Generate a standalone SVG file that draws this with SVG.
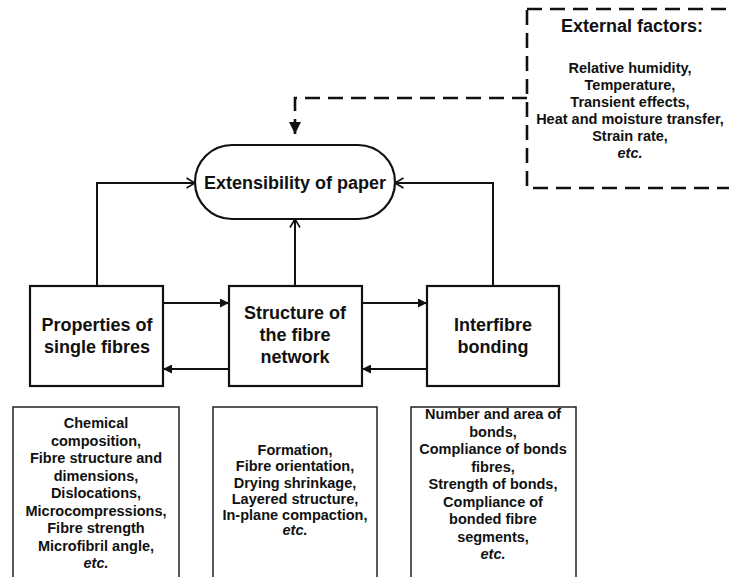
<svg xmlns="http://www.w3.org/2000/svg" width="729" height="577" viewBox="0 0 729 577">
<defs>
<style>
.box{fill:#fff;stroke:#111;stroke-width:2.2}
.thin{fill:#fff;stroke:#222;stroke-width:1.5}
.ln{fill:none;stroke:#111;stroke-width:2}
.dash{fill:none;stroke:#111;stroke-width:2.6;stroke-dasharray:15 8}
text{font-family:"Liberation Sans",Arial,sans-serif;font-weight:bold;fill:#111;text-anchor:middle}
.big{font-size:18px}
.sm{font-size:14.5px}
.it{font-style:italic}
</style>
<marker id="fill" viewBox="0 0 10 10" refX="10" refY="5" markerWidth="10" markerHeight="9" markerUnits="userSpaceOnUse" orient="auto"><path d="M0,0 L10,5 L0,10 z" fill="#111"/></marker>
<marker id="big" viewBox="0 0 12 12" refX="12" refY="6" markerWidth="12" markerHeight="12" markerUnits="userSpaceOnUse" orient="auto"><path d="M0,0 L12,6 L0,12 z" fill="#111"/></marker>
<marker id="open" viewBox="0 0 10 12" refX="9.5" refY="6" markerWidth="10" markerHeight="12" markerUnits="userSpaceOnUse" orient="auto"><path d="M1,1 L9.5,6 L1,11" fill="none" stroke="#111" stroke-width="1.6"/></marker>
</defs>
<rect width="729" height="577" fill="#fff"/>

<g id="connectors">
<path class="dash" d="M527,98 H295 V134" marker-end="url(#big)"/>
<path class="ln" d="M97,286 V183 H195" marker-end="url(#open)"/>
<path class="ln" d="M493,286 V183 H395" marker-end="url(#open)"/>
<path class="ln" d="M295,286 V219" marker-end="url(#open)"/>
<path class="ln" d="M163,303 H229" marker-end="url(#fill)"/>
<path class="ln" d="M362,303 H427" marker-end="url(#fill)"/>
<path class="ln" d="M427,369 H362" marker-end="url(#fill)"/>
<path class="ln" d="M229,369 H163" marker-end="url(#fill)"/>
</g>

<g id="external">
<rect class="dash" x="527" y="9" width="220" height="179"/>
<text class="big" x="632" y="31.5">External factors:</text>
<text class="sm" x="630" y="73">Relative humidity,</text>
<text class="sm" x="630" y="90">Temperature,</text>
<text class="sm" x="630" y="107">Transient effects,</text>
<text class="sm" x="630" y="124">Heat and moisture transfer,</text>
<text class="sm" x="630" y="141">Strain rate,</text>
<text class="sm it" x="630" y="158">etc.</text>
</g>

<g id="extensibility">
<rect class="box" x="195" y="145" width="200" height="74" rx="37" ry="37"/>
<text class="big" x="295" y="189">Extensibility of paper</text>
</g>

<g id="single-fibres">
<rect class="box" x="30" y="286" width="133" height="100"/>
<text class="big" x="97" y="331">Properties of</text>
<text class="big" x="97" y="353">single fibres</text>
</g>

<g id="fibre-network">
<rect class="box" x="229" y="286" width="133" height="100"/>
<text class="big" x="295" y="319">Structure of</text>
<text class="big" x="295" y="341">the fibre</text>
<text class="big" x="295" y="363">network</text>
</g>

<g id="interfibre">
<rect class="box" x="427" y="286" width="132" height="100"/>
<text class="big" x="493" y="331">Interfibre</text>
<text class="big" x="493" y="353">bonding</text>
</g>

<g id="list-single">
<rect class="thin" x="13" y="407" width="166" height="190"/>
<text class="sm" x="96" y="428">Chemical</text>
<text class="sm" x="96" y="445.5">composition,</text>
<text class="sm" x="96" y="463">Fibre structure and</text>
<text class="sm" x="96" y="480.5">dimensions,</text>
<text class="sm" x="96" y="498">Dislocations,</text>
<text class="sm" x="96" y="515.5">Microcompressions,</text>
<text class="sm" x="96" y="533">Fibre strength</text>
<text class="sm" x="96" y="550.5">Microfibril angle,</text>
<text class="sm it" x="96" y="568">etc.</text>
</g>

<g id="list-network">
<rect class="thin" x="213" y="407" width="164" height="190"/>
<text class="sm" x="295" y="455">Formation,</text>
<text class="sm" x="295" y="471">Fibre orientation,</text>
<text class="sm" x="295" y="487.5">Drying shrinkage,</text>
<text class="sm" x="295" y="503.5">Layered structure,</text>
<text class="sm" x="295" y="519.5">In-plane compaction,</text>
<text class="sm it" x="295" y="535">etc.</text>
</g>

<g id="list-bonding">
<rect class="thin" x="411" y="407" width="165" height="190"/>
<text class="sm" x="493" y="419">Number and area of</text>
<text class="sm" x="493" y="436.5">bonds,</text>
<text class="sm" x="493" y="454">Compliance of bonds</text>
<text class="sm" x="493" y="471.5">fibres,</text>
<text class="sm" x="493" y="489">Strength of bonds,</text>
<text class="sm" x="493" y="506.5">Compliance of</text>
<text class="sm" x="493" y="524">bonded fibre</text>
<text class="sm" x="493" y="541.5">segments,</text>
<text class="sm it" x="493" y="559">etc.</text>
</g>
</svg>
